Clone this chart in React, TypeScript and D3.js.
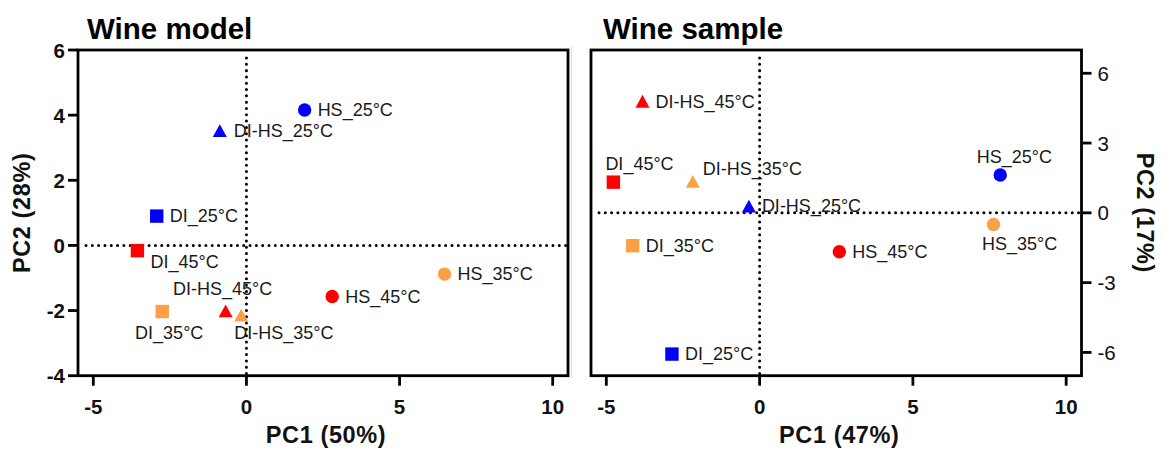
import React from "react";
import * as d3 from "d3";

// ---------- Data ----------
const modelNames = ["HS_25°C", "DI-HS_25°C", "DI_25°C", "DI_45°C", "DI-HS_45°C", "DI_35°C", "DI-HS_35°C", "HS_45°C", "HS_35°C"];
const modelPC1 = [1.9, -0.87, -2.93, -3.56, -0.68, -2.75, -0.17, 2.8, 6.47];
const modelPC2 = [4.16, 3.51, 0.9, -0.16, -2.02, -2.03, -2.15, -1.57, -0.88];

const sampleNames = ["DI-HS_45°C", "DI_45°C", "DI-HS_35°C", "DI-HS_25°C", "HS_25°C", "HS_35°C", "DI_35°C", "HS_45°C", "DI_25°C"];
const samplePC1 = [-3.82, -4.77, -2.18, -0.35, 7.85, 7.63, -4.14, 2.6, -2.86];
const samplePC2 = [4.78, 1.32, 1.34, 0.27, 1.63, -0.5, -1.41, -1.67, -6.07];

const xTicks = [-5, 0, 5, 10];
const modelYTicks = [-4, -2, 0, 2, 4, 6];
const sampleYTicks = [-6, -3, 0, 3, 6];

// ---------- Layout / style (not data) ----------
type Place = { dx: number; dy: number; anchor: "start" | "middle" | "end" };
const R: Place = { dx: 13, dy: 6, anchor: "start" };
const modelPlaces: Place[] = [
  R, { dx: 14, dy: 6, anchor: "start" }, R,
  { dx: 13, dy: 17, anchor: "start" },
  { dx: -3, dy: -16, anchor: "middle" },
  { dx: 7, dy: 27, anchor: "middle" },
  { dx: -7, dy: 24, anchor: "start" },
  R, R,
];
const samplePlaces: Place[] = [
  R,
  { dx: -8, dy: -12, anchor: "start" },
  { dx: 10, dy: -7, anchor: "start" },
  { dx: 13, dy: 5, anchor: "start" },
  { dx: 14, dy: -12, anchor: "middle" },
  { dx: 26, dy: 26, anchor: "middle" },
  R, R, R,
];

const colorFor = (name: string) =>
  name.includes("25") ? "#0000FF" : name.includes("35") ? "#FBA047" : "#FF0000";
const shapeFor = (name: string) =>
  name.startsWith("DI-HS") ? "tri" : name.startsWith("DI") ? "sq" : "circ";

const FONT = "'Liberation Sans', Arial, Helvetica, sans-serif";

function Marker({ x, y, name }: { x: number; y: number; name: string }) {
  const c = colorFor(name);
  const s = shapeFor(name);
  if (s === "circ") return <circle cx={x} cy={y} r={6.7} fill={c} />;
  if (s === "sq") return <rect x={x - 6.7} y={y - 6.7} width={13.4} height={13.4} fill={c} />;
  const p = d3.path();
  p.moveTo(x, y - 6.8);
  p.lineTo(x - 7, y + 6);
  p.lineTo(x + 7, y + 6);
  p.closePath();
  return <path d={p.toString()} fill={c} />;
}

type PanelProps = {
  left: number; right: number; top: number; bottom: number;
  yDomain: [number, number]; yTicks: number[]; yAxisRight: boolean;
  names: string[]; pc1: number[]; pc2: number[]; places: Place[];
  title: string; xTitle: string; yTitle: string;
  titleX: number; yTitleX: number; yTickBold: boolean;
};

function Panel(p: PanelProps) {
  const x = d3.scaleLinear().domain([-5.5, 10.5]).range([p.left, p.right]);
  const y = d3.scaleLinear().domain(p.yDomain).range([p.bottom, p.top]);
  const axisX = p.yAxisRight ? p.right : p.left;
  const tickDir = p.yAxisRight ? 1 : -1;
  const midY = (p.top + p.bottom) / 2;
  return (
    <g>
      {/* dotted zero lines */}
      <line x1={x(0)} x2={x(0)} y1={p.top + 8} y2={p.bottom} stroke="#000" strokeWidth={3}
        strokeDasharray="0.01 6.3" strokeLinecap="round" />
      <line x1={p.left + 8} x2={p.right} y1={y(0)} y2={y(0)} stroke="#000" strokeWidth={3}
        strokeDasharray="0.01 6.3" strokeLinecap="round" />
      {/* frame */}
      <rect x={p.left} y={p.top} width={p.right - p.left} height={p.bottom - p.top}
        fill="none" stroke="#000" strokeWidth={2.8} />
      {/* x ticks */}
      {xTicks.map((t) => (
        <g key={"x" + t}>
          <line x1={x(t)} x2={x(t)} y1={p.bottom} y2={p.bottom + 10} stroke="#000" strokeWidth={2.8} />
          <text x={x(t)} y={p.bottom + 38} textAnchor="middle" fontFamily={FONT} fontWeight="bold"
            fontSize={20.5} fill="#111">{t}</text>
        </g>
      ))}
      {/* y ticks */}
      {p.yTicks.map((t) => (
        <g key={"y" + t}>
          <line x1={axisX} x2={axisX + tickDir * 10} y1={y(t)} y2={y(t)} stroke="#000" strokeWidth={2.8} />
          <text x={axisX + tickDir * (p.yAxisRight ? 16 : 13)} y={y(t) + 7.5}
            textAnchor={p.yAxisRight ? "start" : "end"} fontFamily={FONT}
            fontWeight={p.yTickBold ? "bold" : "normal"} fontSize={20.5} fill="#111">{t}</text>
        </g>
      ))}
      {/* points */}
      {p.names.map((n, i) => (
        <Marker key={"m" + n} x={x(p.pc1[i])} y={y(p.pc2[i])} name={n} />
      ))}
      {p.names.map((n, i) => (
        <text key={"l" + n} x={x(p.pc1[i]) + p.places[i].dx} y={y(p.pc2[i]) + p.places[i].dy}
          textAnchor={p.places[i].anchor} fontFamily={FONT} fontSize={18} fill="#1a1a1a">{n}</text>
      ))}
      {/* titles */}
      <text x={p.titleX} y={39} fontFamily={FONT} fontWeight="bold" fontSize={29.5} fill="#000">{p.title}</text>
      <text x={(p.left + p.right) / 2 + 3} y={443} textAnchor="middle" fontFamily={FONT} fontWeight="bold"
        fontSize={23.5} letterSpacing={0.6} fill="#111">{p.xTitle}</text>
      <text transform={`translate(${p.yTitleX},${midY}) rotate(${p.yAxisRight ? 90 : -90})`}
        textAnchor="middle" dy={8} fontFamily={FONT} fontWeight="bold"
        fontSize={23.5} letterSpacing={0.6} fill="#111">{p.yTitle}</text>
    </g>
  );
}

export default function App() {
  return (
    <svg width={1164} height={452} style={{ position: "absolute", left: 0, top: 0, background: "#fff" }}>
      <rect x={0} y={0} width={1164} height={452} fill="#fff" />
      <line x1={571.5} x2={571.5} y1={47} y2={378} stroke="#e2e2e2" strokeWidth={1.5} />
      <Panel left={78} right={568} top={50} bottom={375.7} yDomain={[-4, 6]} yTicks={modelYTicks}
        yAxisRight={false} names={modelNames} pc1={modelPC1} pc2={modelPC2} places={modelPlaces}
        title="Wine model" xTitle="PC1 (50%)" yTitle="PC2 (28%)" titleX={87} yTitleX={22} yTickBold={true} />
      <Panel left={591} right={1081.5} top={50} bottom={375.7} yDomain={[-7, 7]} yTicks={sampleYTicks}
        yAxisRight={true} names={sampleNames} pc1={samplePC1} pc2={samplePC2} places={samplePlaces}
        title="Wine sample" xTitle="PC1 (47%)" yTitle="PC2 (17%)" titleX={603} yTitleX={1145} yTickBold={false} />
    </svg>
  );
}
